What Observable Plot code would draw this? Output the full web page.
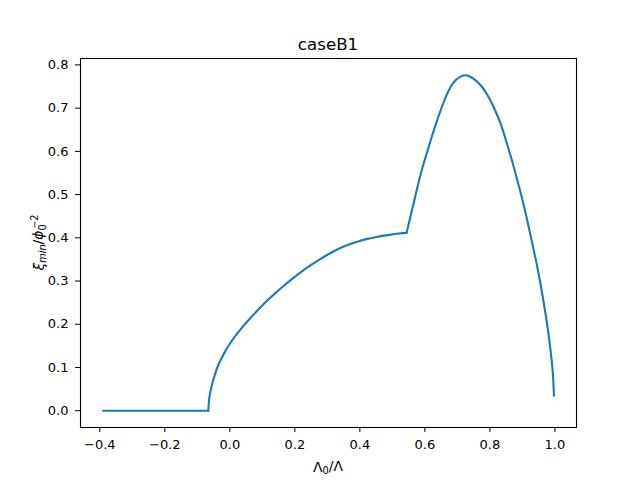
<!DOCTYPE html>
<html>
<head>
<meta charset="utf-8">
<script src="https://cdn.jsdelivr.net/npm/d3@7"></script>
<script src="https://cdn.jsdelivr.net/npm/@observablehq/plot@0.6"></script>
<style>
  html, body { margin: 0; padding: 0; background: #fff; }
</style>
</head>
<body>
<div id="chart"></div>
<script>
const title = "caseB1";
const xTicks = [-0.4, -0.2, 0.0, 0.2, 0.4, 0.6, 0.8, 1.0];
const yTicks = [0.0, 0.1, 0.2, 0.3, 0.4, 0.5, 0.6, 0.7, 0.8];

// piece 1: flat at zero
const flatX = [-0.39, -0.066];
const flatY = [0, 0];

// piece 2: first rising branch up to the kink
const riseX = [
  -0.066, -0.065, -0.062, -0.058, -0.054, -0.046, -0.039, -0.025, -0.013,
  0.0, 0.012, 0.035, 0.064, 0.090, 0.115, 0.140, 0.166, 0.190, 0.2175,
  0.243, 0.269, 0.295, 0.320, 0.345, 0.371, 0.397, 0.423, 0.448, 0.474,
  0.500, 0.520, 0.5437
];
const riseY = [
  0, 0.015, 0.035, 0.050, 0.063, 0.083, 0.099, 0.122, 0.139,
  0.155, 0.168, 0.190, 0.215, 0.236, 0.255, 0.272, 0.289, 0.304, 0.320,
  0.334, 0.3465, 0.3585, 0.369, 0.378, 0.3855, 0.392, 0.3975, 0.4015, 0.405,
  0.408, 0.410, 0.4115
];

// piece 3: peak and fall
const peakX = [
  0.5437, 0.560, 0.5714, 0.587, 0.605, 0.620, 0.635, 0.650, 0.665, 0.680,
  0.695, 0.710, 0.725, 0.738, 0.751, 0.7715, 0.792, 0.8124, 0.833, 0.854,
  0.869, 0.884, 0.900, 0.915, 0.930, 0.946, 0.956, 0.966, 0.974, 0.9815,
  0.987, 0.992, 0.995, 0.997
];
const peakY = [
  0.4115, 0.463, 0.499, 0.547, 0.594, 0.631, 0.666, 0.698, 0.727, 0.750,
  0.765, 0.773, 0.776, 0.773, 0.767, 0.753, 0.731, 0.701, 0.664, 0.614,
  0.576, 0.534, 0.488, 0.440, 0.388, 0.332, 0.292, 0.248, 0.210, 0.170,
  0.136, 0.100, 0.070, 0.035
];

const toRows = (xs, ys) => xs.map((x, i) => ({x, y: ys[i]}));
const flat = toRows(flatX, flatY);
const rise = toRows(riseX, riseY);
const peak = toRows(peakX, peakY);

const allX = [...flatX, ...riseX, ...peakX];
const allY = [...flatY, ...riseY, ...peakY];
const xMin = d3.min(allX), xMax = d3.max(allX);
const yMin = d3.min(allY), yMax = d3.max(allY);
const xPad = (xMax - xMin) * 0.05, yPad = (yMax - yMin) * 0.05;

const lineOpts = {x: "x", y: "y", stroke: "#1f77b4", strokeWidth: 2.1, curve: "monotone-x"};

const chart = Plot.plot({
  width: 640,
  height: 480,
  marginLeft: 80,
  marginRight: 64,
  marginTop: 58,
  marginBottom: 53,
  style: {fontFamily: "DejaVu Sans", fontSize: "13px", color: "#000", background: "#fff"},
  x: {domain: [xMin - xPad, xMax + xPad], label: null},
  y: {domain: [yMin - yPad, yMax + yPad], label: null},
  marks: [
    Plot.line(flat, lineOpts),
    Plot.line(rise, lineOpts),
    Plot.line(peak, lineOpts),
    Plot.frame({stroke: "#000", strokeWidth: 1.1}),
    Plot.axisX({ticks: xTicks, tickFormat: d3.format(".1f"), tickSize: 5, tickPadding: 7, stroke: "#000", strokeOpacity: 1, label: null}),
    Plot.axisY({ticks: yTicks, tickFormat: d3.format(".1f"), tickSize: 5, tickPadding: 7, stroke: "#000", strokeOpacity: 1, label: null})
  ]
});

document.getElementById("chart").appendChild(chart);

const svg = d3.select(chart);
const xr = chart.scale("x").range;
const yr = chart.scale("y").range;
const cx = (xr[0] + xr[1]) / 2;
const cy = (yr[0] + yr[1]) / 2;

// Title
svg.append("text")
  .attr("x", cx).attr("y", d3.min(yr) - 8)
  .attr("text-anchor", "middle")
  .attr("font-family", "DejaVu Sans")
  .attr("font-size", "16.7px")
  .attr("fill", "#000")
  .text(title);

// X label: Λ0/Λ
const xl = svg.append("text")
  .attr("x", cx).attr("y", d3.max(yr) + 45)
  .attr("text-anchor", "middle")
  .attr("font-family", "DejaVu Sans")
  .attr("font-size", "13.9px")
  .attr("fill", "#000");
xl.append("tspan").text("Λ");
xl.append("tspan").attr("dy", "0.22em").attr("font-size", "9.7px").text("0");
xl.append("tspan").attr("dy", "-0.22em").text("/Λ");

// Y label: ξmin/ϕ0^-2
const yl = svg.append("text")
  .attr("transform", `translate(${xr[0] - 36},${cy}) rotate(-90)`)
  .attr("text-anchor", "middle")
  .attr("font-family", "DejaVu Sans")
  .attr("font-size", "13.9px")
  .attr("fill", "#000");
yl.append("tspan").attr("font-style", "italic").text("ξ");
yl.append("tspan").attr("dy", "0.25em").attr("font-size", "9.7px").attr("font-style", "italic").text("min");
yl.append("tspan").attr("dy", "-0.25em").text("/");
yl.append("tspan").attr("font-style", "italic").text("ϕ");
yl.append("tspan").attr("dy", "0.3em").attr("font-size", "9.7px").text("0");
yl.append("tspan").attr("dx", "-0.45em").attr("dy", "-0.85em").attr("font-size", "9.7px").text("−2");
</script>
</body>
</html>
